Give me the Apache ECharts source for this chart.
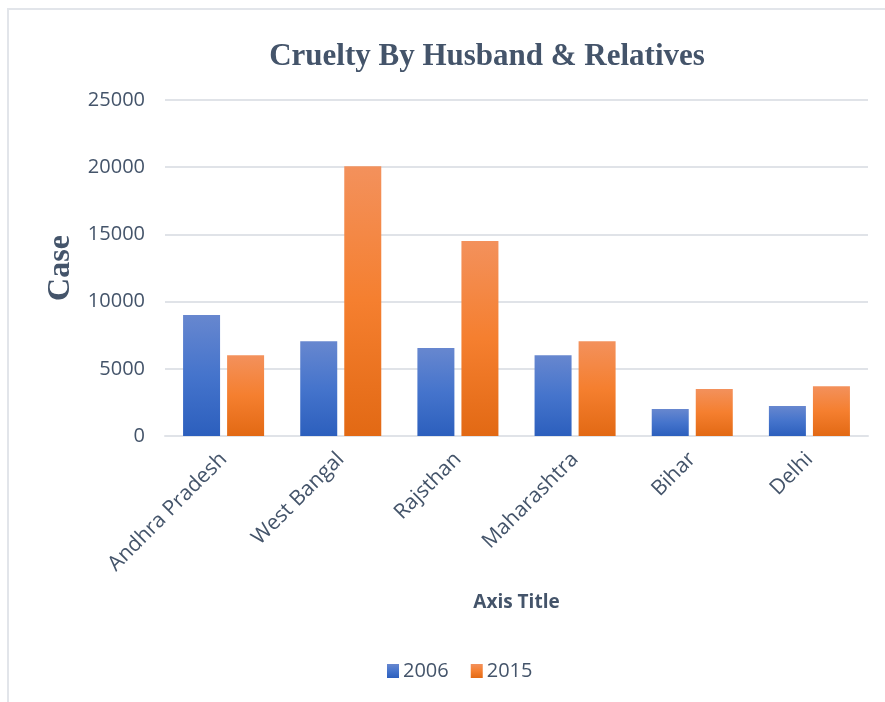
<!DOCTYPE html>
<html>
<head>
<meta charset="utf-8">
<script src="https://cdn.jsdelivr.net/npm/echarts@6/dist/echarts.min.js"></script>
<style>
  html, body { margin: 0; padding: 0; background: #fff; }
  #chart { width: 885px; height: 702px; }
</style>
</head>
<body>
<div id="chart"></div>
<script>
const states = ['Andhra Pradesh', 'West Bangal', 'Rajsthan', 'Maharashtra', 'Bihar', 'Delhi'];
const years = ['2006', '2015'];
const cases2006 = [9000, 7050, 6550, 6000, 2000, 2230];
const cases2015 = [6000, 20070, 14500, 7050, 3500, 3710];
const yTicks = [0, 5000, 10000, 15000, 20000, 25000];

const textColor = '#44546a';
const lineColor = '#e0e3e8';

// excel-like vertical gradients
const blueFill = new echarts.graphic.LinearGradient(0, 0, 0, 1, [
  { offset: 0, color: '#6787cf' },
  { offset: 0.5, color: '#4574cc' },
  { offset: 1, color: '#2c5fbd' }
]);
const orangeFill = new echarts.graphic.LinearGradient(0, 0, 0, 1, [
  { offset: 0, color: '#f3915c' },
  { offset: 0.5, color: '#f57f2f' },
  { offset: 1, color: '#e26914' }
]);

const chart = echarts.init(document.getElementById('chart'));

const option = {
  backgroundColor: '#fff',
  animation: false,
  graphic: [
    // frame lines of the cropped chart area
    { type: 'line', shape: { x1: 7, y1: 9, x2: 885, y2: 9 }, style: { stroke: '#e2e5ea', lineWidth: 2 } },
    { type: 'line', shape: { x1: 8, y1: 9, x2: 8, y2: 702 }, style: { stroke: '#e2e5ea', lineWidth: 2 } },
    {
      type: 'text',
      x: 487,
      y: 57,
      style: {
        text: 'Cruelty By Husband & Relatives',
        fill: textColor,
        font: 'bold 31px "Liberation Serif", "DejaVu Serif", serif',
        textAlign: 'center',
        textVerticalAlign: 'middle'
      }
    }
  ],
  legend: {
    data: years,
    left: 382,
    top: 656,
    itemWidth: 12,
    itemHeight: 14,
    itemGap: 22,
    icon: 'rect',
    textStyle: {
      color: textColor,
      fontSize: 20,
      fontFamily: '"Open Sans", sans-serif',
      padding: [0, 0, 0, -1]
    }
  },
  grid: {
    left: 165,
    right: 17,
    top: 100,
    bottom: 266,
    containLabel: false
  },
  xAxis: {
    type: 'category',
    data: states,
    name: 'Axis Title',
    nameLocation: 'middle',
    nameGap: 157,
    nameTextStyle: {
      color: textColor,
      fontSize: 19,
      fontWeight: 'bold',
      fontFamily: '"Open Sans", sans-serif'
    },
    axisLine: { show: true, lineStyle: { color: lineColor, width: 2 } },
    axisTick: { show: false },
    axisLabel: {
      rotate: 45,
      margin: 20,
      color: textColor,
      fontSize: 21,
      fontFamily: '"Open Sans", sans-serif',
      interval: 0
    }
  },
  yAxis: {
    type: 'value',
    min: yTicks[0],
    max: yTicks[yTicks.length - 1],
    interval: 5000,
    name: 'Case',
    nameLocation: 'middle',
    nameRotate: 90,
    nameGap: 88,
    nameTextStyle: {
      color: textColor,
      fontSize: 32,
      fontWeight: 'bold',
      fontFamily: '"Liberation Serif", "DejaVu Serif", serif'
    },
    axisLine: { show: false },
    axisTick: { show: false },
    axisLabel: {
      margin: 20,
      color: textColor,
      fontSize: 20,
      fontFamily: '"Open Sans", sans-serif',
      formatter: v => String(v)
    },
    splitLine: { lineStyle: { color: lineColor, width: 2 } }
  },
  series: [
    {
      name: years[0],
      type: 'bar',
      data: cases2006,
      barWidth: 37,
      barGap: '19%',
      itemStyle: { color: blueFill }
    },
    {
      name: years[1],
      type: 'bar',
      data: cases2015,
      barWidth: 37,
      barGap: '19%',
      itemStyle: { color: orangeFill }
    }
  ]
};

chart.setOption(option);
</script>
</body>
</html>
